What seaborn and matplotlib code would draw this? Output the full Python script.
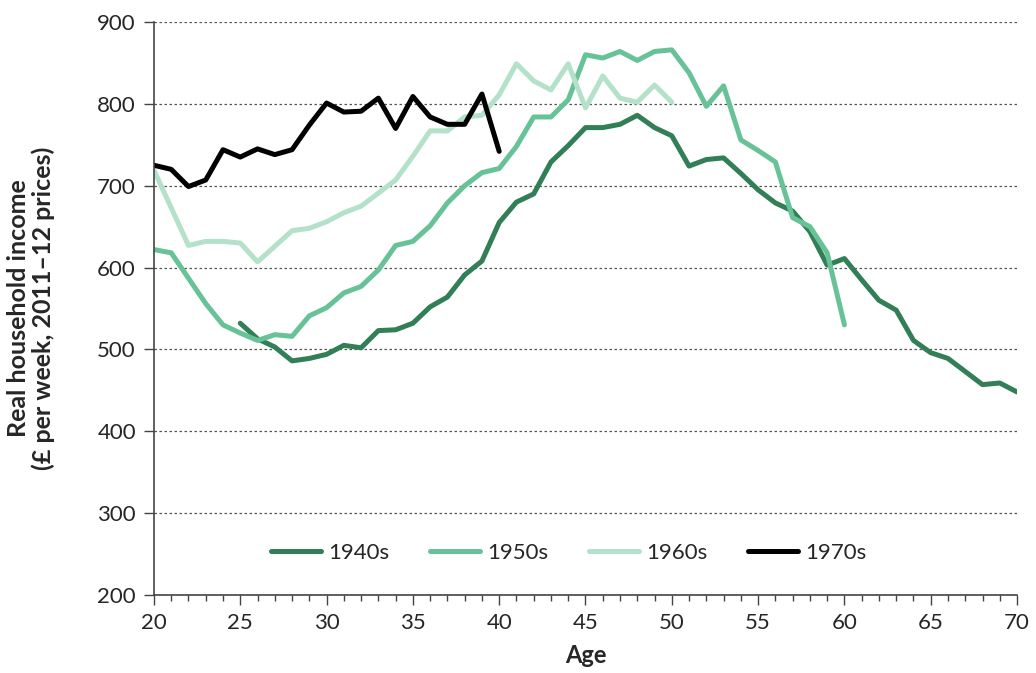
import numpy as np
import pandas as pd
import matplotlib
matplotlib.use("Agg")
import matplotlib.pyplot as plt
from matplotlib.ticker import MultipleLocator
import seaborn as sns

# Household income by age, for each birth cohort
ages_1940s = list(range(25, 71))
income_1940s = [532, 513, 503, 486, 489, 494, 505, 502, 523, 524,
                532, 552, 564, 591, 608, 655, 680, 690, 729, 749,
                771, 771, 775, 786, 771, 761, 724, 732, 734, 715,
                695, 679, 669, 644, 603, 611, 585, 560, 548, 511,
                496, 489, 473, 457, 459, 448]

ages_1950s = list(range(20, 61))
income_1950s = [622, 618, 587, 556, 530, 520, 511, 518, 516, 541,
                551, 569, 577, 597, 627, 632, 651, 679, 700, 716,
                721, 748, 784, 784, 805, 860, 856, 864, 853, 864,
                866, 838, 797, 822, 756, 743, 729, 661, 650, 618,
                530]

ages_1960s = list(range(20, 51))
income_1960s = [719, 673, 627, 632, 632, 630, 607, 626, 645, 648,
                656, 667, 675, 691, 707, 736, 767, 767, 784, 786,
                811, 849, 828, 817, 849, 795, 834, 807, 802, 823,
                802]

ages_1970s = list(range(20, 41))
income_1970s = [725, 720, 699, 707, 744, 735, 745, 738, 744, 774,
                801, 790, 791, 807, 770, 809, 784, 775, 775, 812,
                742]

cohorts = ["1940s", "1950s", "1960s", "1970s"]
colours = {"1940s": "#327f57", "1950s": "#67c397", "1960s": "#b3e1c9", "1970s": "#000000"}

# long-form table for seaborn
frames = []
for name, a, v in [("1940s", ages_1940s, income_1940s),
                   ("1950s", ages_1950s, income_1950s),
                   ("1960s", ages_1960s, income_1960s),
                   ("1970s", ages_1970s, income_1970s)]:
    frames.append(pd.DataFrame({"Age": a, "Income": v, "Cohort": name}))
df = pd.concat(frames, ignore_index=True)

sns.set_style("white")
plt.rcParams["font.family"] = ["Lato", "DejaVu Sans"]

fig = plt.figure(figsize=(10.36, 6.73), dpi=100)
ax = fig.add_axes([0.1486, 0.1159, 0.8331, 0.8514])

sns.lineplot(data=df, x="Age", y="Income", hue="Cohort", hue_order=cohorts,
             palette=colours, linewidth=3.6, ax=ax, legend=True)

ax.set_xlim(20, 70)
ax.set_ylim(200, 900)
ax.xaxis.set_major_locator(MultipleLocator(5))
ax.xaxis.set_minor_locator(MultipleLocator(1))
ax.yaxis.set_major_locator(MultipleLocator(100))

ax.grid(axis="y", linestyle=(0, (2, 2)), color="#555555", linewidth=0.9)
ax.set_axisbelow(True)
for side in ["top", "right"]:
    ax.spines[side].set_visible(False)
for side in ["left", "bottom"]:
    ax.spines[side].set_color("#444444")
    ax.spines[side].set_linewidth(1.2)

ax.tick_params(axis="both", which="major", direction="out", length=7, width=1,
               color="#444444", labelsize=16, pad=6, bottom=True, left=True)
ax.tick_params(axis="x", which="minor", direction="out", length=4, width=1,
               color="#444444", bottom=True)

ax.set_xlabel("Age", fontsize=17, fontweight="bold", labelpad=8)
ax.set_ylabel("Real household income\n(£ per week, 2011–12 prices)",
              fontsize=18, fontweight="bold", labelpad=30, linespacing=1.12)

leg = ax.legend(loc="center left", bbox_to_anchor=(0.136, 0.0733), ncol=4, frameon=False,
                fontsize=16, handlelength=2.25, handletextpad=0.3, columnspacing=1.85,
                borderpad=0, borderaxespad=0)
for line in leg.get_lines():
    line.set_linewidth(3.6)
    line.set_solid_capstyle("round")

plt.savefig("out.png", dpi=100)
